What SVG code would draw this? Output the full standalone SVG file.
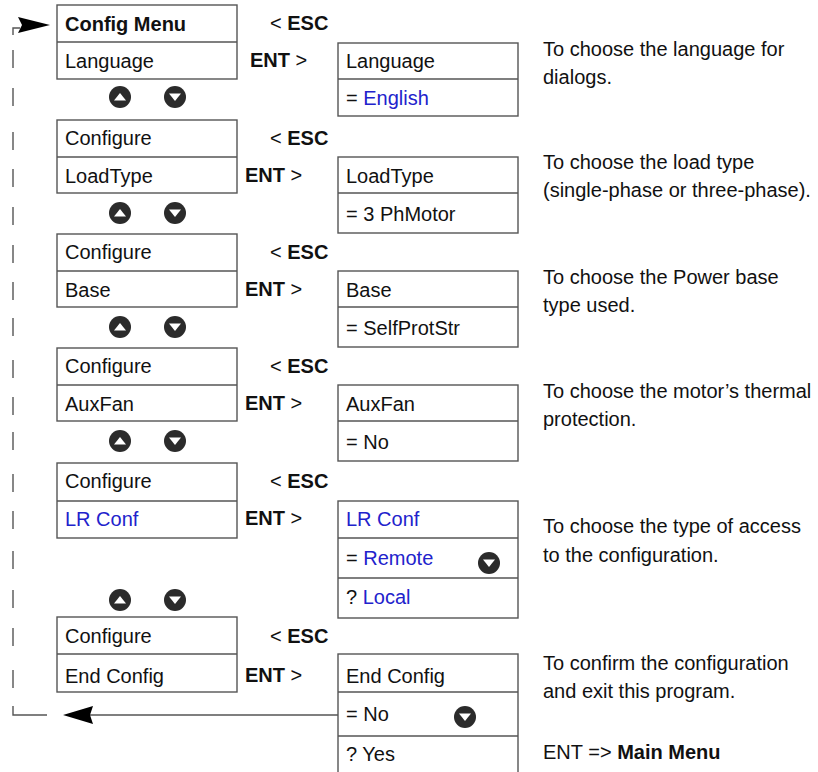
<svg xmlns="http://www.w3.org/2000/svg" width="818" height="772" viewBox="0 0 818 772">
<defs>
<style>
text{font-family:"Liberation Sans",Arial,sans-serif;font-size:20px;fill:#111}
.b{font-weight:bold}
.blue{fill:#2222cc}
.box{fill:#fff;stroke:#555;stroke-width:1.4}
.dl{stroke:#555;stroke-width:1.4;fill:none}
.ln{stroke:#555;stroke-width:1.3;fill:none}
.ic{fill:#2b2b2b}
.tri{fill:#fff}
</style>
<g id="up"><circle r="11" class="ic"/><polygon class="tri" points="-6,3.5 6,3.5 0,-4"/></g>
<g id="dn"><circle r="11" class="ic"/><polygon class="tri" points="-6,-3.5 6,-3.5 0,4"/></g>
</defs>
<rect width="818" height="772" fill="#fff"/>

<g id="connectors">
<path class="dl" d="M20,28 H13 V35"/>
<polygon points="18,17 50,25 18,33 22,25" fill="#000"/>
<path class="dl" d="M13,50 V68 M13,88 V106 M13,132 V150 M13,169 V187 M13,207 V225 M13,245 V263 M13,282 V300 M13,318 V336 M13,360 V378 M13,397 V415 M13,432 V450 M13,474 V492 M13,511 V529 M13,551 V569 M13,590 V608 M13,628 V646 M13,670 V688"/>
<path class="dl" d="M13,706 V715 H47"/>
<line class="ln" x1="90" y1="715" x2="338" y2="715"/>
<polygon points="63,715 93,706 90,715 93,724" fill="#000"/>
</g>

<g id="block0">
<rect class="box" x="57" y="5" width="180" height="74"/>
<line class="ln" x1="57" y1="42" x2="237" y2="42"/>
<text x="65" y="31" class="b">Config Menu</text>
<text x="65" y="68">Language</text>
<text x="270" y="30">&lt; <tspan class="b">ESC</tspan></text>
<text x="250" y="67"><tspan class="b">ENT</tspan> &gt;</text>
<rect class="box" x="338" y="43" width="180" height="73"/>
<line class="ln" x1="338" y1="79" x2="518" y2="79"/>
<text x="346" y="68">Language</text>
<text x="346" y="105">= <tspan class="blue">English</tspan></text>
<text x="543" y="56">To choose the language for</text>
<text x="543" y="84">dialogs.</text>
<use href="#up" x="120" y="97"/>
<use href="#dn" x="175" y="97"/>
</g>

<g id="block1">
<rect class="box" x="57" y="120" width="180" height="73"/>
<line class="ln" x1="57" y1="157" x2="237" y2="157"/>
<text x="65" y="145">Configure</text>
<text x="65" y="183">LoadType</text>
<text x="270" y="145">&lt; <tspan class="b">ESC</tspan></text>
<text x="245" y="182"><tspan class="b">ENT</tspan> &gt;</text>
<rect class="box" x="338" y="157" width="180" height="76"/>
<line class="ln" x1="338" y1="193" x2="518" y2="193"/>
<text x="346" y="183">LoadType</text>
<text x="346" y="221">= 3 PhMotor</text>
<text x="543" y="169">To choose the load type</text>
<text x="543" y="197">(single-phase or three-phase).</text>
<use href="#up" x="120" y="213"/>
<use href="#dn" x="175" y="213"/>
</g>

<g id="block2">
<rect class="box" x="57" y="234" width="180" height="73"/>
<line class="ln" x1="57" y1="271" x2="237" y2="271"/>
<text x="65" y="259">Configure</text>
<text x="65" y="297">Base</text>
<text x="270" y="259">&lt; <tspan class="b">ESC</tspan></text>
<text x="245" y="296"><tspan class="b">ENT</tspan> &gt;</text>
<rect class="box" x="338" y="271" width="180" height="76"/>
<line class="ln" x1="338" y1="307" x2="518" y2="307"/>
<text x="346" y="297">Base</text>
<text x="346" y="335">= SelfProtStr</text>
<text x="543" y="284">To choose the Power base</text>
<text x="543" y="312">type used.</text>
<use href="#up" x="120" y="327"/>
<use href="#dn" x="175" y="327"/>
</g>

<g id="block3">
<rect class="box" x="57" y="348" width="180" height="73"/>
<line class="ln" x1="57" y1="385" x2="237" y2="385"/>
<text x="65" y="373">Configure</text>
<text x="65" y="411">AuxFan</text>
<text x="270" y="373">&lt; <tspan class="b">ESC</tspan></text>
<text x="245" y="410"><tspan class="b">ENT</tspan> &gt;</text>
<rect class="box" x="338" y="385" width="180" height="76"/>
<line class="ln" x1="338" y1="421" x2="518" y2="421"/>
<text x="346" y="411">AuxFan</text>
<text x="346" y="449">= No</text>
<text x="543" y="398">To choose the motor’s thermal</text>
<text x="543" y="426">protection.</text>
<use href="#up" x="120" y="441"/>
<use href="#dn" x="175" y="441"/>
</g>

<g id="block4">
<rect class="box" x="57" y="463" width="180" height="75"/>
<line class="ln" x1="57" y1="501" x2="237" y2="501"/>
<text x="65" y="488">Configure</text>
<text x="65" y="526" class="blue">LR Conf</text>
<text x="270" y="488">&lt; <tspan class="b">ESC</tspan></text>
<text x="245" y="525"><tspan class="b">ENT</tspan> &gt;</text>
<rect class="box" x="338" y="501" width="180" height="117"/>
<line class="ln" x1="338" y1="538" x2="518" y2="538"/>
<line class="ln" x1="338" y1="578" x2="518" y2="578"/>
<text x="346" y="526" class="blue">LR Conf</text>
<text x="346" y="565">= <tspan class="blue">Remote</tspan></text>
<text x="346" y="604">? <tspan class="blue">Local</tspan></text>
<use href="#dn" x="489" y="563"/>
<text x="543" y="533">To choose the type of access</text>
<text x="543" y="562">to the configuration.</text>
<use href="#up" x="120" y="600"/>
<use href="#dn" x="175" y="600"/>
</g>

<g id="block5">
<rect class="box" x="57" y="617" width="180" height="75"/>
<line class="ln" x1="57" y1="654" x2="237" y2="654"/>
<text x="65" y="643">Configure</text>
<text x="65" y="683">End Config</text>
<text x="270" y="643">&lt; <tspan class="b">ESC</tspan></text>
<text x="245" y="682"><tspan class="b">ENT</tspan> &gt;</text>
<rect class="box" x="338" y="654" width="180" height="130"/>
<line class="ln" x1="338" y1="692" x2="518" y2="692"/>
<line class="ln" x1="338" y1="736" x2="518" y2="736"/>
<text x="346" y="683">End Config</text>
<text x="346" y="721">= No</text>
<text x="346" y="761">? Yes</text>
<use href="#dn" x="465" y="717"/>
<text x="543" y="670">To confirm the configuration</text>
<text x="543" y="698">and exit this program.</text>
<text x="543" y="759">ENT =&gt; <tspan class="b">Main Menu</tspan></text>
</g>
</svg>
